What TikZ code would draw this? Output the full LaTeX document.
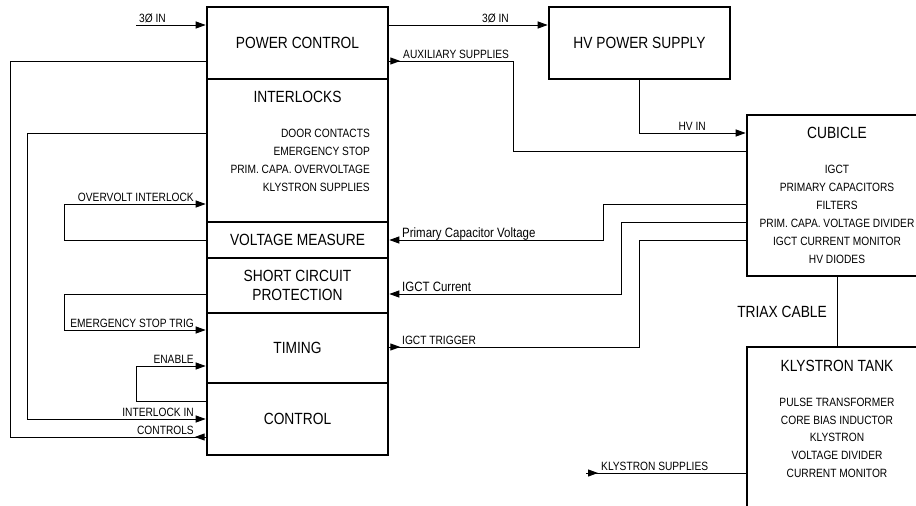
\documentclass[tikz,border=0pt]{standalone}
\usepackage{fontspec}
\setmainfont{Liberation Sans}[FakeStretch=0.85]
\usetikzlibrary{arrows.meta}
\begin{document}
\begin{tikzpicture}[x=1pt,y=-1pt,
 box/.style={draw, line width=2.6pt, inner sep=0pt, font=\fontsize{16.2}{18.5}\selectfont, align=center},
 con/.style={line width=1pt},
 arr/.style={con, -{Triangle[length=10pt,width=7pt]}},
 big/.style={font=\fontsize{16.2}{18.5}\selectfont, inner sep=0pt},
 itm/.style={font=\fontsize{12}{14}\selectfont, inner sep=0pt},
 lbl/.style={font=\fontsize{12}{14}\selectfont, inner sep=0pt},
 lcl/.style={font=\fontsize{13.5}{15}\selectfont, inner sep=0pt},
]
\useasboundingbox (0,0) rectangle (916,506);
\clip (0,0) rectangle (916,506);

% main column
\node[box, minimum width=181pt, minimum height=72pt]  (pc) at (297.5,43)    {POWER CONTROL};
\node[box, minimum width=181pt, minimum height=143pt] (il) at (297.5,150.5) {};
\node[box, minimum width=181pt, minimum height=36pt]  (vm) at (297.5,240)   {VOLTAGE MEASURE};
\node[box, minimum width=181pt, minimum height=55pt]  (sc) at (297.5,285.5) {SHORT CIRCUIT\\PROTECTION};
\node[box, minimum width=181pt, minimum height=70pt]  (tm) at (297.5,348)   {TIMING};
\node[box, minimum width=181pt, minimum height=72pt]  (ct) at (297.5,419)   {CONTROL};

\node[big] (iltitle) at (297.5,97) {INTERLOCKS};
\node[itm, anchor=east] (il1) at (370,133) {DOOR CONTACTS};
\node[itm, anchor=east] (il2) at (370,151) {EMERGENCY STOP};
\node[itm, anchor=east] (il3) at (370,169) {PRIM. CAPA. OVERVOLTAGE};
\node[itm, anchor=east] (il4) at (370,187) {KLYSTRON SUPPLIES};

% right boxes
\node[box, minimum width=181pt, minimum height=72pt]  (hv) at (639.5,43) {HV POWER SUPPLY};
\node[box, minimum width=180pt, minimum height=161pt] (cub) at (837,195.5) {};
\node[box, minimum width=180pt, minimum height=183pt] (tank) at (837,438.5) {};

\node[big] (cubt) at (837,133) {CUBICLE};
\node[itm] (cu1) at (837,169) {IGCT};
\node[itm] (cu2) at (837,187) {PRIMARY CAPACITORS};
\node[itm] (cu3) at (837,205) {FILTERS};
\node[itm] (cu4) at (837,223) {PRIM. CAPA. VOLTAGE DIVIDER};
\node[itm] (cu5) at (837,241) {IGCT CURRENT MONITOR};
\node[itm] (cu6) at (837,259) {HV DIODES};

\node[big] (tkt) at (837,366) {KLYSTRON TANK};
\node[itm] (tk1) at (837,402) {PULSE TRANSFORMER};
\node[itm] (tk2) at (837,420) {CORE BIAS INDUCTOR};
\node[itm] (tk3) at (837,437) {KLYSTRON};
\node[itm] (tk4) at (837,455) {VOLTAGE DIVIDER};
\node[itm] (tk5) at (837,473) {CURRENT MONITOR};

\node[big, anchor=east] (triax) at (827,312) {TRIAX CABLE};

% helper coordinates
\coordinate (in3) at (136,25);
\coordinate (a61) at (0,61);
\coordinate (auxbend) at (513,61);
\coordinate (y151) at (0,151);
\coordinate (y133) at (0,133);
\coordinate (y204) at (0,204);
\coordinate (y222) at (0,222);
\coordinate (y240) at (0,240);
\coordinate (y294) at (0,294);
\coordinate (y401) at (0,401);
\coordinate (pcvbend) at (603,240);
\coordinate (icbend) at (621,294);
\coordinate (itbend) at (639,347);
\coordinate (ks) at (586,473);
\coordinate (cl) at (10,437);
\coordinate (ilb) at (27,419);
\coordinate (ovb) at (64,204);
\coordinate (esb) at (64,330);
\coordinate (enb) at (136,366);

% top connectors
\draw[arr] (in3) -- (in3 -| pc.west);
\node[lbl, anchor=base west] at (139,22) {3Ø IN};
\draw[arr] (pc.east |- in3) -- (hv.west |- in3);
\node[lbl, anchor=base east] at (509,22) {3Ø IN};

\draw[con] (cub.west |- y151) -| (auxbend) -- (pc.east |- auxbend);
\draw[arr] (pc.east |- auxbend) -- ++(11,0);
\node[lbl, anchor=base west] at (403,58) {AUXILIARY SUPPLIES};

\draw[arr] (hv.south) |- (cub.west |- y133);
\node[lbl, anchor=base east] at (706,130) {HV IN};

% cubicle to main column
\draw[arr] (cub.west |- y204) -| (pcvbend) -- (vm.east);
\node[lcl, anchor=base west] at (402,237) {Primary Capacitor Voltage};
\draw[arr] (cub.west |- y222) -| (icbend) -- (sc.east |- icbend);
\node[lcl, anchor=base west] at (402,291) {IGCT Current};
\draw[con] (cub.west |- y240) -| (itbend) -- (tm.east |- itbend);
\draw[arr] (tm.east |- itbend) -- ++(11,0);
\node[lbl, anchor=base west] at (402,344) {IGCT TRIGGER};

% triax and klystron supplies
\draw[con] (cub.south) -- (tank.north);
\draw[con] (ks) -- (tank.west |- ks);
\draw[arr] (ks) -- ++(12,0);
\node[lbl, anchor=base west] at (601,470) {KLYSTRON SUPPLIES};

% left loops
\draw[con] (pc.west |- a61) -| (cl) -- (ct.west |- cl);
\draw[arr] (ct.west |- cl) -- ++(-11,0);
\node[lbl, anchor=base east] at (194,434) {CONTROLS};

\draw[arr] (il.west |- y133) -| (ilb) -- (ct.west |- ilb);
\node[lbl, anchor=base east] at (194,416) {INTERLOCK IN};

\draw[arr] (vm.west) -| (ovb) -- (il.west |- ovb);
\node[lbl, anchor=base east] at (194,201) {OVERVOLT INTERLOCK};

\draw[arr] (sc.west |- y294) -| (esb) -- (tm.west |- esb);
\node[lbl, anchor=base east] at (194,327) {EMERGENCY STOP TRIG};

\draw[arr] (ct.west |- y401) -| (enb) -- (tm.west |- enb);
\node[lbl, anchor=base east] at (194,363) {ENABLE};
\end{tikzpicture}
\end{document}
